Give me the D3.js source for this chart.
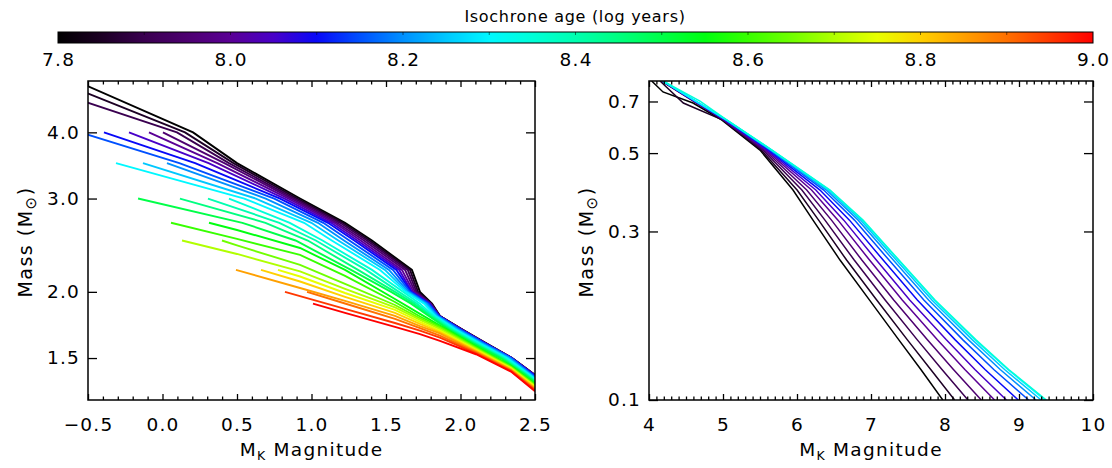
<!DOCTYPE html>
<html><head><meta charset="utf-8">
<script src="https://cdn.jsdelivr.net/npm/d3@7"></script>
<style>
body{margin:0;background:#fff}
text{font-family:"DejaVu Sans",sans-serif;fill:#000}
</style>
</head><body>
<svg id="chart" width="1112" height="468"></svg>
<script>
// ---------------- data ----------------
const colorbarTicks = [7.8, 8.0, 8.2, 8.4, 8.6, 8.8, 9.0];
const colorStopAges = [7.80,7.85,7.90,7.95,8.00,8.05,8.10,8.15,8.20,8.25,8.30,8.35,8.40,8.45,8.50,8.55,8.60,8.65,8.70,8.75,8.80,8.85,8.90,8.95,9.00];
const colorStopHex = ["#000000","#1c0024","#3a0050","#4d0070","#5a0095","#4800c8","#0808f8","#0050ff","#0090ff","#00c8ff","#00f8ff","#00ffd8","#00ffb0","#00ff80","#00ff48","#00ff10","#38ff00","#70ff00","#b0ff00","#e8ff00","#ffd000","#ffa000","#ff7000","#ff3800","#ff0000"];

const leftXTicks = [-0.5, 0.0, 0.5, 1.0, 1.5, 2.0, 2.5];
const leftYTicks = [1.5, 2.0, 3.0, 4.0];
const rightXTicks = [4, 5, 6, 7, 8, 9, 10];
const rightYTicks = [0.1, 0.3, 0.5, 0.7];

// left panel isochrones: [M_K, mass]
const leftAges = [7.80,7.85,7.90,7.95,8.00,8.05,8.10,8.15,8.20,8.25,8.30,8.35,8.40,8.45,8.50,8.55,8.60,8.65,8.70,8.75,8.80,8.85,8.90,8.95,9.00];
const iso780 = [[-0.581,5.0],[0.205,4.0],[0.5,3.5],[0.923,3.0],[1.225,2.7],[1.406,2.5],[1.674,2.2],[1.728,2.0],[1.809,1.9],[1.862,1.8],[2.01,1.7],[2.171,1.6],[2.346,1.5],[2.491,1.4],[2.638,1.3]];
const iso785 = [[-0.708,5.0],[0.151,4.0],[0.476,3.5],[0.905,3.0],[1.209,2.7],[1.389,2.5],[1.661,2.2],[1.715,2.0],[1.805,1.9],[1.862,1.8],[2.009,1.7],[2.168,1.6],[2.346,1.5],[2.491,1.4],[2.637,1.3]];
const iso790 = [[-0.943,5.0],[0.097,4.0],[0.446,3.5],[0.886,3.0],[1.192,2.7],[1.372,2.5],[1.646,2.2],[1.705,2.0],[1.802,1.9],[1.861,1.8],[2.007,1.7],[2.167,1.6],[2.344,1.5],[2.489,1.4],[2.636,1.3]];
const iso795 = [[0.003,4.0],[0.415,3.5],[0.867,3.0],[1.171,2.7],[1.352,2.5],[1.628,2.2],[1.695,2.0],[1.799,1.9],[1.860,1.8],[2.005,1.7],[2.166,1.6],[2.344,1.5],[2.488,1.4],[2.634,1.3]];
const iso800 = [[-0.091,4.0],[0.367,3.5],[0.846,3.0],[1.153,2.7],[1.330,2.5],[1.607,2.2],[1.685,2.0],[1.795,1.9],[1.858,1.8],[2.004,1.7],[2.164,1.6],[2.343,1.5],[2.487,1.4],[2.633,1.3]];
const iso805 = [[-0.225,4.0],[0.309,3.5],[0.819,3.0],[1.132,2.7],[1.308,2.5],[1.589,2.2],[1.674,2.0],[1.792,1.9],[1.857,1.8],[2.002,1.7],[2.163,1.6],[2.342,1.5],[2.485,1.4],[2.632,1.3]];
const iso810 = [[-0.393,4.0],[0.219,3.5],[0.789,3.0],[1.110,2.7],[1.287,2.5],[1.570,2.2],[1.668,2.0],[1.789,1.9],[1.856,1.8],[2.0,1.7],[2.161,1.6],[2.342,1.5],[2.484,1.4],[2.630,1.3]];
const iso815 = [[-0.554,4.0],[0.113,3.5],[0.750,3.0],[1.079,2.7],[1.254,2.5],[1.547,2.2],[1.661,2.0],[1.785,1.9],[1.854,1.8],[1.996,1.7],[2.158,1.6],[2.341,1.5],[2.477,1.4],[2.622,1.3]];
const iso820 = [[0.030,3.5],[0.693,3.0],[1.043,2.7],[1.218,2.5],[1.520,2.2],[1.651,2.0],[1.775,1.9],[1.847,1.8],[1.985,1.7],[2.146,1.6],[2.332,1.5],[2.469,1.4],[2.614,1.3]];
const iso825 = [[-0.131,3.5],[0.626,3.0],[0.999,2.7],[1.180,2.5],[1.493,2.2],[1.641,2.0],[1.765,1.9],[1.839,1.8],[1.974,1.7],[2.136,1.6],[2.321,1.5],[2.462,1.4],[2.607,1.3]];
const iso830 = [[-0.312,3.5],[0.549,3.0],[0.950,2.7],[1.136,2.5],[1.460,2.2],[1.631,2.0],[1.755,1.9],[1.831,1.8],[1.963,1.7],[2.124,1.6],[2.310,1.5],[2.455,1.4],[2.601,1.3]];
const iso835 = [[0.446,3.0],[0.854,2.7],[1.074,2.5],[1.406,2.2],[1.614,2.0],[1.728,1.9],[1.822,1.8],[1.952,1.7],[2.113,1.6],[2.300,1.5],[2.448,1.4],[2.593,1.3]];
const iso840 = [[0.305,3.0],[0.784,2.7],[1.029,2.5],[1.366,2.2],[1.587,2.0],[1.708,1.9],[1.811,1.8],[1.941,1.7],[2.102,1.6],[2.289,1.5],[2.441,1.4],[2.586,1.3]];
const iso845 = [[0.117,3.0],[0.691,2.7],[0.975,2.5],[1.312,2.2],[1.560,2.0],[1.688,1.9],[1.799,1.8],[1.930,1.7],[2.091,1.6],[2.279,1.5],[2.434,1.4],[2.579,1.3]];
const iso850 = [[-0.164,3.0],[0.536,2.7],[0.893,2.5],[1.265,2.2],[1.534,2.0],[1.668,1.9],[1.787,1.8],[1.918,1.7],[2.081,1.6],[2.268,1.5],[2.427,1.4],[2.571,1.3]];
const iso855 = [[0.312,2.7],[0.5,2.617],[0.923,2.420],[1.225,2.200],[1.560,1.939],[1.728,1.817],[1.862,1.728],[2.104,1.579],[2.339,1.450],[2.5,1.342]];
const iso860 = [[0.057,2.7],[0.5,2.517],[0.923,2.348],[1.225,2.143],[1.560,1.914],[1.728,1.797],[1.862,1.721],[2.104,1.573],[2.339,1.446],[2.5,1.338]];
const iso865 = [[0.399,2.5],[0.5,2.447],[0.923,2.248],[1.225,2.070],[1.560,1.889],[1.728,1.782],[1.862,1.712],[2.104,1.567],[2.339,1.442],[2.5,1.333]];
const iso870 = [[0.131,2.5],[0.5,2.358],[0.923,2.186],[1.225,2.025],[1.560,1.869],[1.728,1.770],[1.862,1.701],[2.104,1.561],[2.339,1.438],[2.5,1.328]];
const iso875 = [[0.775,2.2],[0.923,2.138],[1.225,1.990],[1.560,1.849],[1.728,1.755],[1.862,1.690],[2.104,1.555],[2.339,1.434],[2.5,1.324]];
const iso880 = [[0.661,2.2],[0.923,2.092],[1.225,1.956],[1.560,1.825],[1.728,1.740],[1.862,1.679],[2.104,1.549],[2.339,1.430],[2.5,1.318]];
const iso885 = [[0.493,2.2],[0.923,2.034],[1.225,1.923],[1.560,1.801],[1.728,1.724],[1.862,1.669],[2.104,1.543],[2.339,1.426],[2.5,1.314]];
const iso890 = [[0.970,2.0],[1.225,1.901],[1.560,1.778],[1.728,1.709],[1.862,1.654],[2.104,1.537],[2.339,1.422],[2.5,1.309]];
const iso895 = [[0.822,2.0],[1.225,1.857],[1.560,1.747],[1.728,1.690],[1.862,1.640],[2.104,1.531],[2.339,1.418],[2.5,1.304]];
const iso900 = [[1.010,1.9],[1.225,1.825],[1.560,1.717],[1.728,1.665],[1.862,1.616],[2.104,1.525],[2.339,1.414],[2.5,1.299]];
const leftTracks = [iso780,iso785,iso790,iso795,iso800,iso805,iso810,iso815,iso820,iso825,iso830,iso835,iso840,iso845,iso850,iso855,iso860,iso865,iso870,iso875,iso880,iso885,iso890,iso895,iso900];

// right panel (low-mass end): [M_K, mass]
const rightAges = [7.80,7.85,7.90,7.95,8.00,8.05,8.10,8.15,8.20,8.25,8.30,8.35];
const low780 = [[4.036,0.80],[4.189,0.745],[4.595,0.693],[4.986,0.62],[5.50,0.51],[5.946,0.393],[6.216,0.323],[6.581,0.249],[6.978,0.192],[7.376,0.148],[7.674,0.122],[7.97,0.10]];
const low785 = [[4.149,0.80],[4.464,0.693],[5.000,0.62],[5.518,0.51],[6.001,0.393],[6.292,0.323],[6.670,0.249],[7.077,0.192],[7.492,0.148],[7.807,0.122],[8.13,0.10]];
const low790 = [[4.170,0.80],[5.007,0.62],[5.539,0.51],[6.066,0.393],[6.378,0.323],[6.773,0.249],[7.191,0.192],[7.626,0.148],[7.959,0.122],[8.31,0.10]];
const low795 = [[4.175,0.80],[5.014,0.62],[5.559,0.51],[6.131,0.393],[6.466,0.323],[6.876,0.249],[7.307,0.192],[7.762,0.148],[8.114,0.122],[8.49,0.10]];
const low800 = [[4.180,0.80],[5.020,0.62],[5.581,0.51],[6.196,0.393],[6.554,0.323],[6.980,0.249],[7.422,0.192],[7.897,0.148],[8.268,0.122],[8.67,0.10]];
const low805 = [[4.183,0.80],[5.027,0.62],[5.600,0.51],[6.254,0.393],[6.632,0.323],[7.072,0.249],[7.523,0.192],[8.018,0.148],[8.404,0.122],[8.83,0.10]];
const low810 = [[4.185,0.80],[5.034,0.62],[5.619,0.51],[6.311,0.393],[6.709,0.323],[7.164,0.249],[7.626,0.192],[8.138,0.148],[8.541,0.122],[8.99,0.10]];
const low815 = [[4.187,0.80],[5.041,0.62],[5.635,0.51],[6.361,0.393],[6.777,0.323],[7.243,0.249],[7.714,0.192],[8.242,0.148],[8.659,0.122],[9.13,0.10]];
const low820 = [[4.188,0.80],[5.045,0.62],[5.646,0.51],[6.397,0.393],[6.827,0.323],[7.301,0.249],[7.778,0.192],[8.318,0.148],[8.746,0.122],[9.23,0.10]];
const low825 = [[4.189,0.80],[5.049,0.62],[5.654,0.51],[6.423,0.393],[6.861,0.323],[7.341,0.249],[7.823,0.192],[8.370,0.148],[8.805,0.122],[9.30,0.10]];
const low830 = [[4.189,0.80],[5.054,0.62],[5.661,0.51],[6.441,0.393],[6.885,0.323],[7.370,0.249],[7.855,0.192],[8.408,0.148],[8.849,0.122],[9.35,0.10]];
const low835 = [[4.189,0.80],[4.689,0.702],[5.054,0.62],[5.662,0.51],[6.446,0.393],[6.892,0.323],[7.378,0.249],[7.865,0.192],[8.419,0.148],[8.861,0.122],[9.37,0.10]];
const rightTracks = [low780,low785,low790,low795,low800,low805,low810,low815,low820,low825,low830,low835];

// ---------------- drawing ----------------
const svg = d3.select("#chart");
const color = d3.scaleLinear().domain(colorStopAges).range(colorStopHex).interpolate(d3.interpolateRgb);
const defs = svg.append("defs");
const TICK_FONT = 18.5, TICK_LS = 1.2;

// colour bar
const cb = {x0:58, x1:1093, y:32, h:11};
const cbX = d3.scaleLinear().domain([7.8, 9.0]).range([cb.x0, cb.x1]);
const grad = defs.append("linearGradient").attr("id","cbgrad").attr("x1","0%").attr("x2","100%").attr("y1","0%").attr("y2","0%");
d3.range(0, 241).forEach(k => {
  const a = 7.8 + k * 0.005;
  grad.append("stop").attr("offset", (k / 240 * 100) + "%").attr("stop-color", color(a));
});
svg.append("rect").attr("x", cb.x0).attr("y", cb.y).attr("width", cb.x1 - cb.x0).attr("height", cb.h)
  .attr("fill", "url(#cbgrad)").attr("stroke", "#000").attr("stroke-width", 1);
svg.append("g").selectAll("line").data(d3.range(7.9, 9.0, 0.1)).join("line")
  .attr("x1", d => cbX(d)).attr("x2", d => cbX(d)).attr("y1", cb.y).attr("y2", cb.y + 3)
  .attr("stroke", "#000").attr("stroke-opacity", 0.5).attr("stroke-width", 1);
svg.append("g").selectAll("text").data(colorbarTicks).join("text")
  .attr("x", d => cbX(d) + TICK_LS / 2).attr("y", 66).attr("text-anchor", "middle")
  .attr("font-size", TICK_FONT).attr("letter-spacing", TICK_LS)
  .text(d => d.toFixed(1));
svg.append("text").attr("x", 575).attr("y", 22).attr("text-anchor", "middle").attr("font-size", 16)
  .attr("letter-spacing", 0.7).text("Isochrone age (log years)");

function drawPanel(p) {
  const g = svg.append("g");
  const clipId = "clip" + p.id;
  defs.append("clipPath").attr("id", clipId).append("rect")
    .attr("x", p.x0).attr("y", p.y0).attr("width", p.x1 - p.x0).attr("height", p.y1 - p.y0);
  const x = d3.scaleLinear().domain(p.xDomain).range([p.x0, p.x1]);
  const y = d3.scaleLog().domain(p.yDomain).range([p.y1, p.y0]);
  const line = d3.line().x(d => x(d[0])).y(d => y(d[1]));
  const lg = g.append("g").attr("clip-path", `url(#${clipId})`);
  p.tracks.forEach((t, i) => {
    lg.append("path").attr("d", line(t)).attr("fill", "none")
      .attr("stroke", color(p.ages[i])).attr("stroke-width", p.lw).attr("stroke-linejoin", "miter");
  });
  const axStyle = sel => { sel.attr("font-size", TICK_FONT).attr("font-family", "DejaVu Sans");
    sel.select(".domain").remove(); sel.selectAll(".tick line").attr("stroke", "#000").attr("stroke-width", 1.3);
    sel.selectAll(".tick text").attr("fill", "#000").attr("letter-spacing", TICK_LS); };
  // bottom
  g.append("g").attr("transform", `translate(0,${p.y1})`)
    .call(d3.axisBottom(x).tickValues(p.xTicks).tickSize(-6).tickPadding(18).tickFormat(p.fmtX)).call(axStyle);
  g.append("g").attr("transform", `translate(0,${p.y1})`)
    .call(d3.axisBottom(x).tickValues(p.xMinor).tickSize(-3.5).tickFormat("")).call(axStyle);
  // top
  g.append("g").attr("transform", `translate(0,${p.y0})`)
    .call(d3.axisTop(x).tickValues(p.xTicks).tickSize(-6).tickFormat("")).call(axStyle);
  g.append("g").attr("transform", `translate(0,${p.y0})`)
    .call(d3.axisTop(x).tickValues(p.xMinor).tickSize(-3.5).tickFormat("")).call(axStyle);
  // left
  g.append("g").attr("transform", `translate(${p.x0},0)`)
    .call(d3.axisLeft(y).tickValues(p.yTicks).tickSize(-9).tickPadding(8).tickFormat(p.fmtY)).call(axStyle);
  // right
  g.append("g").attr("transform", `translate(${p.x1},0)`)
    .call(d3.axisRight(y).tickValues(p.yTicks).tickSize(-9).tickFormat("")).call(axStyle);
  // frame
  g.append("rect").attr("x", p.x0).attr("y", p.y0).attr("width", p.x1 - p.x0).attr("height", p.y1 - p.y0)
    .attr("fill", "none").attr("stroke", "#000").attr("stroke-width", 1.5);
  // x title
  const xt = g.append("text").attr("x", (p.x0 + p.x1) / 2).attr("y", 456).attr("text-anchor", "middle")
    .attr("font-size", 18.5).attr("letter-spacing", 1.3);
  xt.append("tspan").text("M");
  xt.append("tspan").attr("font-size", 12.5).attr("dy", 4).text("K");
  xt.append("tspan").attr("dy", -4).text(" Magnitude");
  // y title
  const yt = g.append("text").attr("transform", `translate(${p.yTitleX},242) rotate(-90)`)
    .attr("text-anchor", "middle").attr("font-size", 19).attr("letter-spacing", 1.5);
  yt.append("tspan").text("Mass (M");
  yt.append("tspan").attr("font-size", 15).attr("dy", 4).text("\u2299");
  yt.append("tspan").attr("dy", -4).text(")");
}

const minus = v => (v < 0 ? "\u2212" + Math.abs(v).toFixed(1) : v.toFixed(1));

drawPanel({
  id: "L", x0: 88, x1: 535, y0: 81, y1: 400,
  xDomain: [-0.5, 2.5], yDomain: [1.25, 5.0],
  xTicks: leftXTicks, xMinor: d3.range(-0.4, 2.45, 0.1).filter(v => Math.abs(v * 2 - Math.round(v * 2)) > 0.01),
  yTicks: leftYTicks, fmtX: minus, fmtY: d => d.toFixed(1),
  tracks: leftTracks, ages: leftAges, lw: 1.9, yTitleX: 32
});
drawPanel({
  id: "R", x0: 649, x1: 1093, y0: 81, y1: 400,
  xDomain: [4, 10], yDomain: [0.1, 0.8],
  xTicks: rightXTicks, xMinor: d3.range(4.1, 10, 0.1).filter(v => Math.abs(v - Math.round(v)) > 0.01),
  yTicks: rightYTicks, fmtX: d => String(d), fmtY: d => d.toFixed(1),
  tracks: rightTracks, ages: rightAges, lw: 1.5, yTitleX: 593
});
</script>
</body></html>
